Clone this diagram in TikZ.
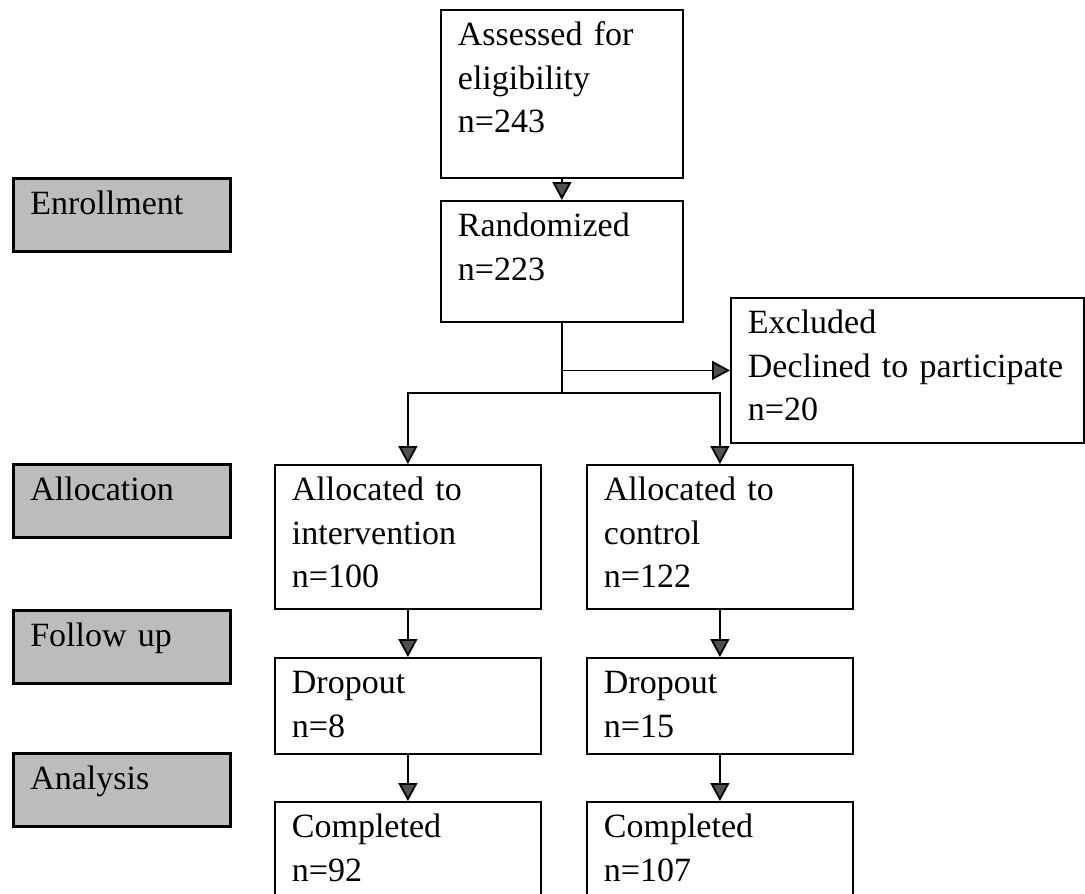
\documentclass[tikz,border=0pt]{standalone}
\usepackage{fontspec}
\setmainfont{Liberation Serif}
\usetikzlibrary{arrows.meta}
\definecolor{StageGray}{RGB}{188, 188, 188}
\definecolor{TipGray}{RGB}{80, 80, 80}

\begin{document}
\begin{tikzpicture}[x=1pt, y=-1pt,
    every node/.style={font=\fontsize{34}{43.5}\selectfont},
    flowbox/.style={draw, line width=1.8pt, anchor=north west, align=left,
                    inner xsep=17pt, inner ysep=0pt, text height=36pt},
    stagebox/.style={flowbox, fill=StageGray, line width=2.6pt, text width=183pt, text depth=37pt},
    arr/.style={line width=1.8pt, -{Triangle[width=19pt, length=18pt, fill=TipGray]}}]
    \useasboundingbox (0,0) rectangle (1085,894);
    % stages on the left, flow boxes in two columns
    \foreach \y/\name/\txt in {177/enrol/Enrollment, 463/alloc/Allocation,
                               609/follow/Follow up, 752/anal/Analysis} {
        \node[stagebox] (\name) at (12, \y) {\txt};
    }
    \node[flowbox, text width=208pt, text depth=132pt] (assess) at (440, 9) {Assessed for\\eligibility\\n=243};
    \node[flowbox, text width=208pt, text depth=85pt] (rand) at (440, 200) {Randomized\\n=223};
    \node[flowbox, text width=319pt, text depth=109pt] (excl) at (730, 297) {Excluded\\Declined to participate\\n=20};
    \foreach \x/\side/\grp/\na/\nd/\nc in {274/I/intervention/100/8/92, 586/C/control/122/15/107} {
        \node[flowbox, text width=232pt, text depth=108pt] (alloc\side) at (\x, 464) {Allocated to\\\grp\\n=\na};
        \node[flowbox, text width=232pt, text depth=60pt] (drop\side) at (\x, 657) {Dropout\\n=\nd};
        \node[flowbox, text width=232pt, text depth=130pt] (comp\side) at (\x, 801) {Completed\\n=\nc};
    }
    \coordinate (split) at ([yshift=-70pt]rand.south);
    \draw[line width=1.8pt] (rand.south) -- (split);
    \draw[arr] (rand.south |- excl.west) -- (excl.west);
    \draw[arr] (split) -| (allocI.north);
    \draw[arr] (split) -| (allocC.north);
    \foreach \top/\bot in {assess/rand, allocI/dropI, dropI/compI, allocC/dropC, dropC/compC}
        \draw[arr] (\top.south) -- (\bot.north);
\end{tikzpicture}
\end{document}
